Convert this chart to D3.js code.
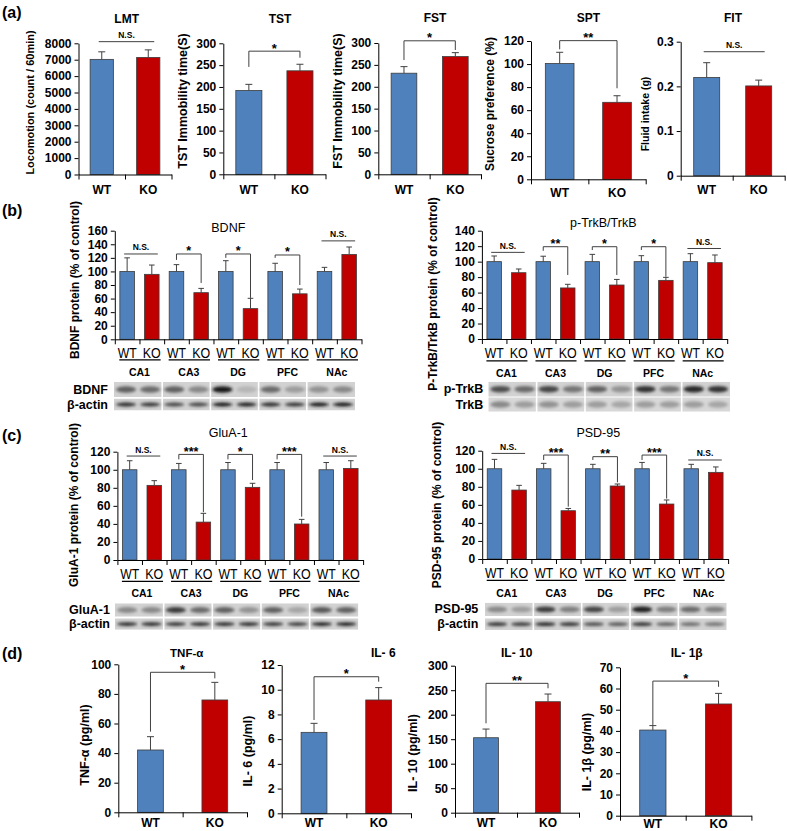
<!DOCTYPE html>
<html><head><meta charset="utf-8">
<script src="https://cdn.jsdelivr.net/npm/d3@7/dist/d3.min.js"></script>
<style>body{margin:0;background:#fff}svg{display:block}</style>
</head><body><script>
// ---------------- DATA ----------------
const conditions = ["WT", "KO"];
const regions = ["CA1", "CA3", "DG", "PFC", "NAc"];

// (a) behaviour
const lmtMeans = [7020, 7140], lmtErr = [460, 460];
const tstMeans = [192, 237], tstErr = [14, 15];
const fstMeans = [231, 269], fstErr = [15, 9];
const sptMeans = [100.5, 66.8], sptErr = [9.7, 5.7];
const fitMeans = [0.220, 0.201], fitErr = [0.033, 0.013];
const lmtTicks = [0, 1000, 2000, 3000, 4000, 5000, 6000, 7000, 8000];
const tstTicks = [0, 50, 100, 150, 200, 250, 300];
const fstTicks = [0, 50, 100, 150, 200, 250, 300];
const sptTicks = [0, 20, 40, 60, 80, 100, 120];
const fitTicks = [0, 0.1, 0.2, 0.3];
const lmtSig = {label: "N.S.", top: 8100};
const tstSig = {label: "*", top: 282, left: 246, right: 267};
const fstSig = {label: "*", top: 305, left: 261, right: 284};
const sptSig = {label: "**", top: 120.3, left: 112.8, right: 79};
const fitSig = {label: "N.S.", top: 0.2776};

// (b) BDNF and p-TrkB/TrkB
const bdnfWT = [100, 100, 100, 100, 100], bdnfWTErr = [20, 10, 15.8, 12, 6];
const bdnfKO = [95.7, 68.7, 45.2, 67, 125], bdnfKOErr = [13.7, 6.3, 15.2, 7, 11];
const bdnfTicks = [0, 20, 40, 60, 80, 100, 120, 140, 160];
const bdnfSig = [{label: "N.S.", top: 125.7}, {label: "*", top: 125.7, left: 117, right: 83},
  {label: "*", top: 125.7, left: 120, right: 61}, {label: "*", top: 124.2, left: 120, right: 80},
  {label: "N.S.", top: 145}];
const trkWT = [100, 100, 100, 100, 100], trkWTErr = [7.3, 7, 9.4, 7.7, 10.3];
const trkKO = [85.7, 66, 69.8, 75.8, 98.7], trkKOErr = [4.8, 4.7, 7.2, 3.9, 9.9];
const trkTicks = [0, 20, 40, 60, 80, 100, 120, 140];
const trkSig = [{label: "N.S.", top: 112}, {label: "**", top: 119.3, left: 114, right: 82.7},
  {label: "*", top: 119.3, left: 115, right: 82.7}, {label: "*", top: 119.3, left: 115, right: 80.5},
  {label: "N.S.", top: 117}];

// (c) GluA-1 and PSD-95
const gluWT = [100, 100, 100, 100, 100], gluWTErr = [10, 7, 8, 8, 8];
const gluKO = [82.7, 42, 80.5, 39.9, 101.5], gluKOErr = [5.2, 9.7, 4.5, 5.1, 8.5];
const gluTicks = [0, 20, 40, 60, 80, 100, 120];
const gluSig = [{label: "N.S.", top: 115.2}, {label: "***", top: 117, left: 111.5, right: 53},
  {label: "*", top: 117, left: 111.5, right: 88.6}, {label: "***", top: 117, left: 111.5, right: 48},
  {label: "N.S.", top: 115.2}];
const psdWT = [100, 100, 100, 100, 100], psdWTErr = [10.4, 6, 4.9, 7, 4.9];
const psdKO = [76.4, 53.5, 80.9, 60.9, 96], psdKOErr = [5.2, 2.5, 2.2, 4.5, 6];
const psdTicks = [0, 20, 40, 60, 80, 100, 120];
const psdSig = [{label: "N.S.", top: 117}, {label: "***", top: 115.2, left: 109.7, right: 58},
  {label: "**", top: 113.4, left: 109.7, right: 85}, {label: "***", top: 115.2, left: 109.7, right: 67},
  {label: "N.S.", top: 109.7}];

// western blot band intensities (WT, KO per region)
const bdnfBands = [0.55, 0.5, 0.55, 0.35, 0.95, 0.12, 0.5, 0.25, 0.3, 0.35];
const bdnfActin = [0.85, 0.8, 0.7, 0.7, 0.95, 0.9, 0.85, 0.8, 0.95, 0.95];
const ptrkBands = [0.65, 0.5, 0.7, 0.45, 0.55, 0.3, 0.8, 0.45, 0.85, 0.8];
const trkBands = [0.35, 0.25, 0.3, 0.25, 0.25, 0.2, 0.25, 0.25, 0.25, 0.2];
const gluBands = [0.35, 0.35, 0.75, 0.5, 0.55, 0.3, 0.55, 0.2, 0.6, 0.55];
const gluActin = [0.85, 0.85, 0.8, 0.85, 0.85, 0.85, 0.8, 0.75, 0.9, 0.9];
const psdBands = [0.35, 0.25, 0.75, 0.4, 0.7, 0.25, 0.9, 0.4, 0.5, 0.4];
const psdActin = [0.8, 0.75, 0.85, 0.8, 0.65, 0.6, 0.8, 0.55, 0.5, 0.45];

// (d) cytokines
const tnfMeans = [42.1, 75.9], tnfErr = [9, 11.9];
const il6Means = [6.55, 9.17], il6Err = [0.73, 1.0];
const il10Means = [153, 226.5], il10Err = [17.7, 15.7];
const il1bMeans = [40.4, 52.7], il1bErr = [2.1, 5];
const tnfTicks = [0, 20, 40, 60, 80, 100];
const il6Ticks = [0, 2, 4, 6, 8, 10, 12];
const il10Ticks = [0, 50, 100, 150, 200, 250, 300];
const il1bTicks = [0, 10, 20, 30, 40, 50, 60, 70];
const tnfSig = {label: "*", top: 94.6, left: 54.5, right: 90.5};
const il6Sig = {label: "*", top: 11.05, left: 7.55, right: 10.65};
const il10Sig = {label: "**", top: 264, left: 182.4, right: 253.9};
const il1bSig = {label: "*", top: 63.5, left: 42.8, right: 60.8};

// ---------------- DRAWING ----------------
const FONT = "Arial, 'Liberation Sans', sans-serif";
const BLUE = "#4F81BD", RED = "#C00000", EDGE = "#3c3c3c", LINE = "#404040";
const svg = d3.select("body").append("svg").attr("width", 787).attr("height", 831)
  .style("font-family", FONT);
const defs = svg.append("defs");
defs.append("filter").attr("id", "bandBlur").attr("x", "-50%").attr("y", "-100%")
  .attr("width", "200%").attr("height", "300%")
  .append("feGaussianBlur").attr("stdDeviation", 1.4);

function txt(g, x, y, s, o = {}) {
  const t = g.append("text").attr("x", x).attr("y", y).text(s)
    .attr("font-size", o.size || 12).attr("font-weight", o.weight || "bold")
    .attr("text-anchor", o.anchor || "middle").attr("fill", "#000")
    .attr("font-family", FONT);
  if (o.central !== false) t.attr("dominant-baseline", "central");
  if (o.rotate) t.attr("transform", `rotate(-90,${x},${y})`);
  if (o.len) t.attr("textLength", o.len).attr("lengthAdjust", "spacingAndGlyphs");
  return t;
}
function styleAxis(a, size) {
  a.attr("font-family", FONT).attr("font-size", size || 12).attr("font-weight", "bold");
  a.selectAll("path,line").attr("stroke", "#000").attr("stroke-width", 1);
  a.selectAll("text").attr("fill", "#000");
}
function errorBars(g, data, xc, y, cap) {
  g.selectAll(null).data(data).join("path")
    .attr("d", d => `M${xc(d)},${y(d.v)}V${y(d.v + d.e)}M${xc(d) - cap},${y(d.v + d.e)}H${xc(d) + cap}`)
    .attr("stroke", LINE).attr("stroke-width", 1).attr("fill", "none");
}
function drawSig(g, s, xl, xr, y, starSize, nsSize) {
  if (s.label === "N.S.") {
    g.append("line").attr("x1", xl - 3).attr("x2", xr + 6).attr("y1", y(s.top)).attr("y2", y(s.top))
      .attr("stroke", LINE).attr("stroke-width", 1);
    txt(g, (xl + xr) / 2 + 1.5, y(s.top) - 6.5, "N.S.", {size: nsSize || 8.5});
  } else {
    g.append("path").attr("d", `M${xl},${y(s.left)}V${y(s.top)}H${xr}V${y(s.right)}`)
      .attr("stroke", LINE).attr("stroke-width", 1).attr("fill", "none");
    txt(g, (xl + xr) / 2, y(s.top) + 1.5, s.label, {size: starSize || 13, central: false});
  }
}

function twoBar(c) {
  const g = svg.append("g");
  const x = d3.scaleBand().domain(conditions).range([c.x0, c.x1]).paddingInner(c.pad).paddingOuter(c.pad / 2);
  const y = d3.scaleLinear().domain([0, c.max]).range([c.y0, c.yTop]);
  const data = conditions.map((k, i) => ({k, v: c.means[i], e: c.errs[i], col: i ? RED : BLUE}));
  g.selectAll(null).data(data).join("rect")
    .attr("x", d => x(d.k)).attr("width", x.bandwidth())
    .attr("y", d => y(d.v)).attr("height", d => y(0) - y(d.v))
    .attr("fill", d => d.col).attr("stroke", EDGE).attr("stroke-width", 0.8);
  errorBars(g, data, d => x(d.k) + x.bandwidth() / 2, y, c.cap || 3.5);
  const ya = g.append("g").attr("transform", `translate(${c.x0},0)`)
    .call(d3.axisLeft(y).tickValues(c.ticks).tickFormat(d => String(d)).tickSize(4).tickSizeOuter(0).tickPadding(3));
  styleAxis(ya, c.tickSize || 12);
  const slot = d3.scaleLinear().domain([0, 2]).range([c.x0, c.x1]);
  const xa = g.append("g").attr("transform", `translate(0,${c.y0})`)
    .call(d3.axisBottom(slot).tickValues([0, 1, 2]).tickFormat("").tickSize(5).tickSizeOuter(0));
  styleAxis(xa);
  conditions.forEach(k => txt(g, x(k) + x.bandwidth() / 2, c.xlabY, k, {size: c.xlabSize || 12}));
  txt(g, c.titleX, c.titleY, c.title, {size: c.titleSize || 12});
  txt(g, c.ylabX, c.ylabY, c.ylab, {size: c.ylabSize || 12, rotate: true});
  drawSig(g, c.sig, x("WT") + x.bandwidth() / 2, x("KO") + x.bandwidth() / 2, y, c.starSize, c.nsSize);
}

function grouped(c) {
  const g = svg.append("g");
  const keys = regions.flatMap(r => conditions.map(k => r + "|" + k));
  const x = d3.scaleBand().domain(keys).range([c.x0, c.x1]).paddingInner(0.41).paddingOuter(0.205);
  const y = d3.scaleLinear().domain([0, c.max]).range([c.y0, c.yTop]);
  const data = regions.flatMap((r, i) => [
    {k: r + "|WT", v: c.wt[i], e: c.wtE[i], col: BLUE},
    {k: r + "|KO", v: c.ko[i], e: c.koE[i], col: RED}]);
  g.selectAll(null).data(data).join("rect")
    .attr("x", d => x(d.k)).attr("width", x.bandwidth())
    .attr("y", d => y(d.v)).attr("height", d => y(0) - y(d.v))
    .attr("fill", d => d.col).attr("stroke", EDGE).attr("stroke-width", 0.8);
  const xc = d => x(d.k) + x.bandwidth() / 2;
  errorBars(g, data, xc, y, 2.8);
  const ya = g.append("g").attr("transform", `translate(${c.x0},0)`)
    .call(d3.axisLeft(y).tickValues(c.ticks).tickFormat(d => String(d)).tickSize(4).tickSizeOuter(0).tickPadding(3));
  styleAxis(ya, 12);
  const slot = d3.scaleLinear().domain([0, keys.length]).range([c.x0, c.x1]);
  const xa = g.append("g").attr("transform", `translate(0,${c.y0})`)
    .call(d3.axisBottom(slot).tickValues(d3.range(keys.length + 1)).tickFormat("").tickSize(5).tickSizeOuter(0));
  styleAxis(xa);
  const grp = d3.scaleLinear().domain([0, regions.length]).range([c.x0, c.x1]);
  keys.forEach(k => txt(g, x(k) + x.bandwidth() / 2, c.wtkoY, k.split("|")[1],
    {size: 14, weight: "normal", len: k.endsWith("WT") ? 19 : 18}));
  regions.forEach((r, i) => {
    g.append("line").attr("x1", grp(i) + 4.5).attr("x2", grp(i + 1) - 3.5)
      .attr("y1", c.underY).attr("y2", c.underY).attr("stroke", "#000").attr("stroke-width", 1.2);
    txt(g, (grp(i) + grp(i + 1)) / 2, c.regionY, r, {size: 10.5});
    drawSig(g, c.sig[i], x(r + "|WT") + x.bandwidth() / 2, x(r + "|KO") + x.bandwidth() / 2, y, 12.5, 8.5);
  });
  txt(g, c.titleX, c.titleY, c.title, {size: 12.5, weight: "normal"});
  txt(g, c.ylabX, c.ylabY, c.ylab, {size: 12, rotate: true});
}

function blot(c) {
  const g = svg.append("g");
  const n = regions.length;
  const seg = d3.scaleLinear().domain([0, n]).range([c.x0, c.x1]);
  const lane = d3.scaleBand().domain(d3.range(2 * n)).range([c.x0, c.x1]);
  c.rows.forEach((row, ri) => {
    const cid = "clip" + c.id + ri;
    defs.append("clipPath").attr("id", cid).append("rect")
      .attr("x", c.x0).attr("y", row.y).attr("width", c.x1 - c.x0).attr("height", row.h);
    const rg = g.append("g").attr("clip-path", `url(#${cid})`);
    regions.forEach((r, i) => {
      rg.append("rect").attr("x", seg(i) + (i ? 0.8 : 0)).attr("y", row.y)
        .attr("width", seg(i + 1) - seg(i) - (i ? 0.8 : 0) - (i < n - 1 ? 0.8 : 0)).attr("height", row.h)
        .attr("fill", row.bg || "#d2d2d2");
    });
    rg.selectAll(null).data(row.bands).join("ellipse")
      .attr("cx", (d, i) => lane(i) + lane.bandwidth() / 2)
      .attr("cy", row.y + row.h / 2)
      .attr("rx", lane.bandwidth() * 0.42).attr("ry", row.h * (row.thin ? 0.16 : 0.22))
      .attr("fill", d => d3.interpolateRgb("#cccccc", "#0a0a0a")(d))
      .attr("filter", "url(#bandBlur)");
    txt(g, c.labelX, row.y + row.h / 2, row.label, {size: 12.5, anchor: "end"});
  });
}

// panel letters
txt(svg, 2, 12, "(a)", {size: 16, anchor: "start"});
txt(svg, 2, 210, "(b)", {size: 16, anchor: "start"});
txt(svg, 2, 435, "(c)", {size: 16, anchor: "start"});
txt(svg, 2, 653, "(d)", {size: 16, anchor: "start"});

// (a)
twoBar({x0: 78.5, x1: 171.5, y0: 174.5, yTop: 43.3, max: 8000, pad: 0.5, ticks: lmtTicks,
  means: lmtMeans, errs: lmtErr, title: "LMT", titleX: 126.7, titleY: 19,
  ylab: "Locomotion (count / 60min)", ylabX: 30, ylabY: 102.5, ylabSize: 11, xlabY: 190, sig: lmtSig});
twoBar({x0: 223.3, x1: 325.5, y0: 174.3, yTop: 43.3, max: 300, pad: 0.49, ticks: tstTicks,
  means: tstMeans, errs: tstErr, title: "TST", titleX: 280, titleY: 19,
  ylab: "TST Immobility time(S)", ylabX: 182.7, ylabY: 101, ylabSize: 12.5, xlabY: 190, sig: tstSig});
twoBar({x0: 378.3, x1: 481, y0: 174.3, yTop: 43, max: 300, pad: 0.5, ticks: fstTicks,
  means: fstMeans, errs: fstErr, title: "FST", titleX: 435, titleY: 18.3,
  ylab: "FST Immobility time(S)", ylabX: 338, ylabY: 101, ylabSize: 12.5, xlabY: 189.5, sig: fstSig});
twoBar({x0: 531, x1: 645.7, y0: 179.3, yTop: 41, max: 120, pad: 0.5, ticks: sptTicks,
  means: sptMeans, errs: sptErr, title: "SPT", titleX: 588.3, titleY: 18.3,
  ylab: "Sucrose preference (%)", ylabX: 489.5, ylabY: 104, ylabSize: 12, xlabY: 192.7, sig: sptSig});
twoBar({x0: 680.7, x1: 784.7, y0: 175.7, yTop: 41.7, max: 0.3, pad: 0.5, ticks: fitTicks,
  means: fitMeans, errs: fitErr, title: "FIT", titleX: 733, titleY: 18.3,
  ylab: "Fluid intake (g)", ylabX: 645, ylabY: 114, ylabSize: 10.5, xlabY: 190, sig: fitSig});

// (b)
grouped({x0: 114.8, x1: 361.5, y0: 339.3, yTop: 230.7, max: 160, ticks: bdnfTicks,
  wt: bdnfWT, wtE: bdnfWTErr, ko: bdnfKO, koE: bdnfKOErr, sig: bdnfSig,
  title: "BDNF", titleX: 228.3, titleY: 228.3, ylab: "BDNF protein (% of control)", ylabX: 75, ylabY: 280,
  wtkoY: 352.7, underY: 359.8, regionY: 372.3});
grouped({x0: 481.9, x1: 727.2, y0: 339, yTop: 230.7, max: 140, ticks: trkTicks,
  wt: trkWT, wtE: trkWTErr, ko: trkKO, koE: trkKOErr, sig: trkSig,
  title: "p-TrkB/TrkB", titleX: 603.3, titleY: 223.3, ylab: "P-TrkB/TrkB  protein (% of control)",
  ylabX: 433.3, ylabY: 294, wtkoY: 352.7, underY: 360.9, regionY: 373.3});
blot({id: "b1", x0: 114, x1: 355, labelX: 108, rows: [
  {label: "BDNF", y: 382, h: 15, bands: bdnfBands},
  {label: "β-actin", y: 398.5, h: 12, bands: bdnfActin, thin: true}]});
blot({id: "b2", x0: 488.3, x1: 730, labelX: 483.3, rows: [
  {label: "p-TrkB", y: 381.7, h: 15, bands: ptrkBands},
  {label: "TrkB", y: 397.3, h: 14.4, bands: trkBands, bg: "#d8d8d8"}]});

// (c)
grouped({x0: 117.4, x1: 363.1, y0: 560, yTop: 451.7, max: 120, ticks: gluTicks,
  wt: gluWT, wtE: gluWTErr, ko: gluKO, koE: gluKOErr, sig: gluSig,
  title: "GluA-1", titleX: 228.3, titleY: 433.3, ylab: "GluA-1 protein (% of control)", ylabX: 74, ylabY: 505,
  wtkoY: 574.3, underY: 581.3, regionY: 592.7});
grouped({x0: 482.2, x1: 728.1, y0: 559, yTop: 450.7, max: 120, ticks: psdTicks,
  wt: psdWT, wtE: psdWTErr, ko: psdKO, koE: psdKOErr, sig: psdSig,
  title: "PSD-95", titleX: 598.3, titleY: 433.3, ylab: "PSD-95 protein (% of control)", ylabX: 436.7, ylabY: 505,
  wtkoY: 573.3, underY: 580.3, regionY: 592.7});
blot({id: "c1", x0: 115, x1: 358.3, labelX: 110, rows: [
  {label: "GluA-1", y: 603.3, h: 13.4, bands: gluBands},
  {label: "β-actin", y: 618.3, h: 11.5, bands: gluActin, thin: true}]});
blot({id: "c2", x0: 485, x1: 726.7, labelX: 478.3, rows: [
  {label: "PSD-95", y: 602.7, h: 13.4, bands: psdBands},
  {label: "β-actin", y: 618.3, h: 11.7, bands: psdActin, thin: true}]});

// (d)
twoBar({x0: 118.3, x1: 247, y0: 812.3, yTop: 664.3, max: 100, pad: 0.6, ticks: tnfTicks,
  means: tnfMeans, errs: tnfErr, title: "TNF-α", titleX: 186.7, titleY: 653.3, titleSize: 11.5,
  ylab: "TNF-α (pg/ml)", ylabX: 85, ylabY: 745, ylabSize: 12.5, xlabY: 823.3, tickSize: 12, sig: tnfSig});
twoBar({x0: 281.7, x1: 411, y0: 813.3, yTop: 665, max: 12, pad: 0.6, ticks: il6Ticks,
  means: il6Means, errs: il6Err, title: "IL- 6", titleX: 383.3, titleY: 653.3, titleSize: 12,
  ylab: "IL- 6 (pg/ml)", ylabX: 248.3, ylabY: 751, ylabSize: 12.5, xlabY: 823.3, tickSize: 12, sig: il6Sig});
twoBar({x0: 455, x1: 579, y0: 812.7, yTop: 665.7, max: 300, pad: 0.6, ticks: il10Ticks,
  means: il10Means, errs: il10Err, title: "IL- 10", titleX: 516.7, titleY: 653.3, titleSize: 12,
  ylab: "IL- 10 (pg/ml)", ylabX: 413.3, ylabY: 753, ylabSize: 12.5, xlabY: 823.3, tickSize: 12, sig: il10Sig});
twoBar({x0: 620, x1: 751.4, y0: 815.7, yTop: 667.3, max: 70, pad: 0.6, ticks: il1bTicks,
  means: il1bMeans, errs: il1bErr, title: "IL- 1β", titleX: 686.7, titleY: 653.3, titleSize: 12,
  ylab: "IL- 1β (pg/ml)", ylabX: 586.7, ylabY: 752, ylabSize: 12.5, xlabY: 824, tickSize: 12, sig: il1bSig});
</script></body></html>
